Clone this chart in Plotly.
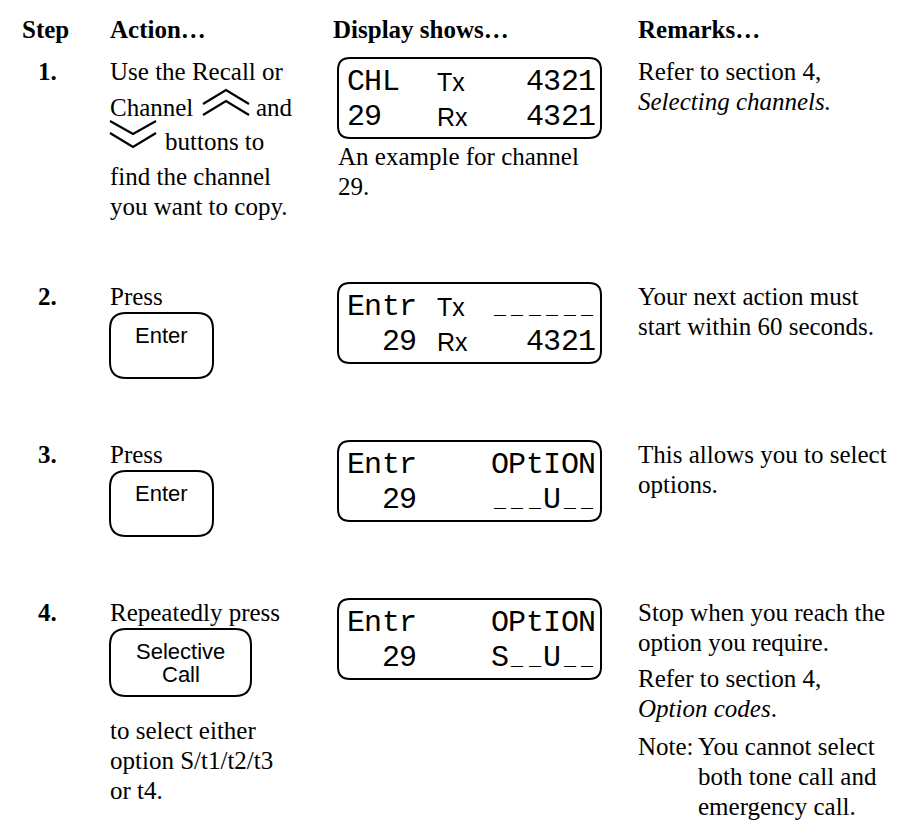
import plotly.graph_objects as go

# ---------------- data (text content) ----------------
headers = ["Step", "Action…", "Display shows…", "Remarks…"]
steps = ["1.", "2.", "3.", "4."]

action_lines = [
    ["Use the Recall or", "Channel", "buttons to", "find the channel", "you want to copy."],
    ["Press"],
    ["Press"],
    ["Repeatedly press"],
]
inline_word_after_up = "and"
button_labels = [[], ["Enter"], ["Enter"], ["Selective", "Call"]]
action_after = [[], [], [], ["to select either", "option S/t1/t2/t3", "or t4."]]

display_left = [["CHL", "29"], ["Entr", "  29"], ["Entr", "  29"], ["Entr", "  29"]]
display_mid = [["Tx", "Rx"], ["Tx", "Rx"], ["", ""], ["", ""]]
display_right = [["4321", "4321"], ["______", "4321"], ["OPtION", "___U__"], ["OPtION", "S__U__"]]
display_caption = [["An example for channel", "29."], [], [], []]

remark_paragraphs = [
    [["Refer to section 4,", "<i>Selecting channels.</i>"]],
    [["Your next action must", "start within 60 seconds."]],
    [["This allows you to select", "options."]],
    [["Stop when you reach the", "option you require."],
     ["Refer to section 4,", "<i>Option codes</i>."]],
]
note_label = ["", "", "", "Note:"]
note_lines = [[], [], [], ["You cannot select", "both tone call and", "emergency call."]]

# ---------------- layout constants ----------------
W, H = 902, 840
SERIF = "Liberation Serif, Times New Roman, serif"
SANS = "Liberation Sans, Arial, sans-serif"
MONO = "Liberation Mono, DejaVu Sans Mono, monospace"
FS = 25
row_base = [72, 297, 455, 613]
X_STEP, X_ACT, X_DISP, X_DISP_R, X_REM = 30, 102, 330, 593, 630
header_x = [14, X_ACT, 325, X_REM]
PITCH = 17.5

ann = []
shapes = []


def text(x, base, s, size=FS, family=SERIF, anchor="left", bold=False):
    t = f"<b>{s}</b>" if bold else s
    ann.append(dict(x=x, y=base - 0.3375 * size, text=t, xanchor=anchor, yanchor="middle",
                    showarrow=False, borderpad=0, borderwidth=0,
                    font=dict(family=family, size=size, color="black"), xref="x", yref="y"))


def ctext(x, yc, s, size, family, anchor="left"):
    ann.append(dict(x=x, y=yc, text=s, xanchor=anchor, yanchor="middle",
                    showarrow=False, borderpad=0, borderwidth=0,
                    font=dict(family=family, size=size, color="black"), xref="x", yref="y"))


def seg_text(x0, yc, s):
    # display characters laid out on a fixed pitch, like an LCD
    for k, ch in enumerate(s):
        if ch == " ":
            continue
        cx = x0 + (k + 0.5) * PITCH
        if ch == "_":
            ctext(cx, yc + 1, ch, 20, MONO, anchor="center")
        else:
            ctext(cx, yc, ch, 30, MONO, anchor="center")


def rrect(x0, y0, x1, y1, r, lw=2):
    p = (f"M{x0+r},{y0} L{x1-r},{y0} Q{x1},{y0} {x1},{y0+r} L{x1},{y1-r} "
         f"Q{x1},{y1} {x1-r},{y1} L{x0+r},{y1} Q{x0},{y1} {x0},{y1-r} "
         f"L{x0},{y0+r} Q{x0},{y0} {x0+r},{y0} Z")
    shapes.append(dict(type="path", path=p, xref="x", yref="y",
                       line=dict(color="black", width=lw), fillcolor="rgba(0,0,0,0)"))


def poly(pts, lw=2.2):
    p = "M" + " L".join(f"{x},{y}" for x, y in pts)
    shapes.append(dict(type="path", path=p, xref="x", yref="y",
                       line=dict(color="black", width=lw)))


# headers
for hx, h in zip(header_x, headers):
    text(hx, 30, h, bold=True)

row1_offsets = [0, 36, 70, 105, 135]

for i, step in enumerate(steps):
    b = row_base[i]
    text(X_STEP, b, step, bold=True)

    # action column
    if i == 0:
        for k, line in enumerate(action_lines[0]):
            yb = b + row1_offsets[k]
            if k == 1:
                text(X_ACT, yb, line)
                poly([(195, yb - 12), (218, yb - 26), (241, yb - 12)])
                poly([(195, yb - 1), (218, yb - 15), (241, yb - 1)])
                text(248, yb, inline_word_after_up)
            elif k == 2:
                poly([(102, yb - 29), (125, yb - 16), (148, yb - 29)])
                poly([(102, yb - 17), (125, yb - 3), (148, yb - 17)])
                text(157, yb, line)
            else:
                text(X_ACT, yb, line)
    else:
        for k, line in enumerate(action_lines[i]):
            text(X_ACT, b + 30 * k, line)

    labels = button_labels[i]
    if labels:
        top = b + 8
        bw = 103 if len(labels) == 1 else 141
        bh = 65 if len(labels) == 1 else 67
        rrect(X_ACT, top, X_ACT + bw, top + bh, 16)
        cx = X_ACT + bw / 2
        for k, lab in enumerate(labels):
            ctext(cx, top + 22 + 23 * k, lab, 22, SANS, anchor="center")
        after_base = top + bh + 43
        for k, line in enumerate(action_after[i]):
            text(X_ACT, after_base + 30 * k, line)

    # display box
    top = b - 22
    rrect(X_DISP, top, X_DISP_R, top + 80, 12)
    for r in range(2):
        yc = top + 24 + 35 * r
        seg_text(X_DISP + 9, yc, display_left[i][r])
        if display_mid[i][r]:
            ctext(429, yc, display_mid[i][r], 25, SANS)
        rs = display_right[i][r]
        seg_text(X_DISP_R - 5 - len(rs) * PITCH, yc, rs)
    for k, line in enumerate(display_caption[i]):
        text(X_DISP, top + 80 + 27 + 30 * k, line)

    # remarks
    yb = b
    for pi, para in enumerate(remark_paragraphs[i]):
        if pi > 0:
            yb += 6
        for line in para:
            text(X_REM, yb, line)
            yb += 30
    if note_label[i]:
        yb += 8
        text(X_REM, yb, note_label[i])
        for line in note_lines[i]:
            text(690, yb, line)
            yb += 30

fig = go.Figure()
fig.update_layout(
    width=W, height=H,
    margin=dict(l=0, r=0, t=0, b=0),
    paper_bgcolor="white", plot_bgcolor="white",
    xaxis=dict(range=[0, W], visible=False, fixedrange=True),
    yaxis=dict(range=[H, 0], visible=False, fixedrange=True),
    annotations=ann, shapes=shapes, showlegend=False,
)
fig.write_html("out.html")
